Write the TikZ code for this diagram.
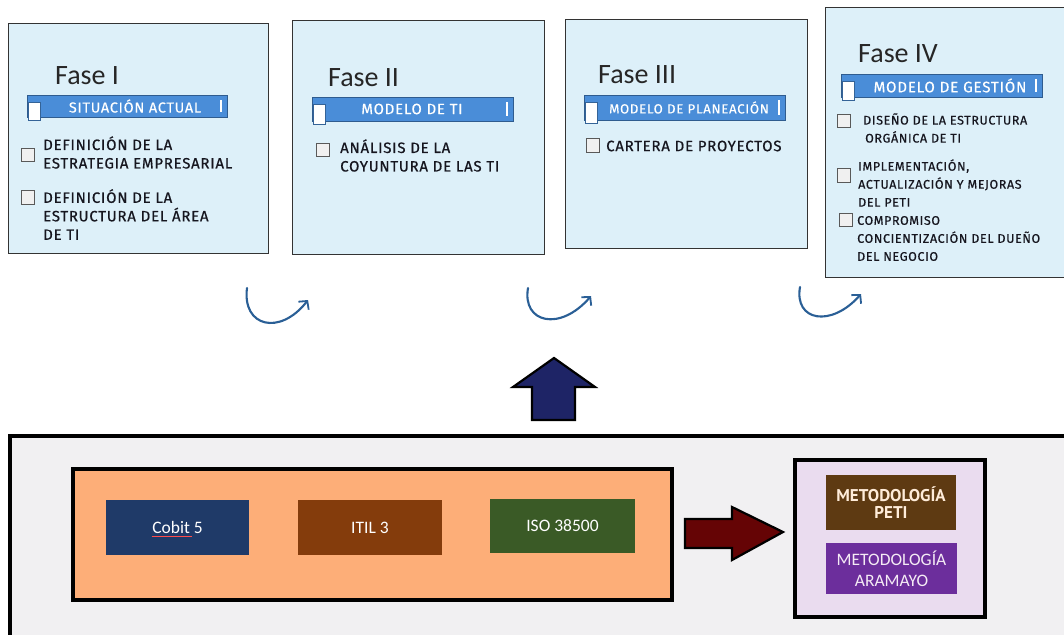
\documentclass[tikz,border=0pt]{standalone}
\usepackage{fontspec}
\setmainfont{Carlito}
\newfontfamily\din[LetterSpace=5, FakeBold=0.6]{Fira Sans}
\newfontfamily\barfont[LetterSpace=5, FakeBold=0.2]{Fira Sans}
\newfontfamily\dinplain{PT Sans}
\usetikzlibrary{arrows.meta}

\definecolor{phasefill}{HTML}{DDF0F9}
\definecolor{barblue}{HTML}{4A8DD8}
\definecolor{bardark}{HTML}{2F5C8F}
\definecolor{itemtext}{HTML}{16161F}
\definecolor{curlblue}{HTML}{2A5F96}
\definecolor{navyarrow}{HTML}{1E2466}
\definecolor{maroonarrow}{HTML}{650405}
\definecolor{panelgrey}{HTML}{F1F0F2}
\definecolor{peach}{HTML}{FDAE78}
\definecolor{cobitblue}{HTML}{1F3A68}
\definecolor{itilbrown}{HTML}{843C0C}
\definecolor{isogreen}{HTML}{3A5A26}
\definecolor{lavender}{HTML}{EADCEF}
\definecolor{petibrown}{HTML}{5E3A12}
\definecolor{aramayopurple}{HTML}{6C2E9C}

\tikzset{
  fasebox/.style={draw=black!80, line width=1pt, fill=phasefill, inner sep=0pt},
  fasetitle/.style={font=\fontsize{28}{30}\selectfont, text=black!85, inner sep=0pt, anchor=base west},
  barbox/.style={draw=bardark, line width=0.6pt, fill=barblue, inner sep=0pt},
  bartext/.style={text=white, inner sep=0pt},
  chk/.style={draw=black!65, fill=black!6, line width=0.9pt, minimum size=13.5pt, inner sep=0pt},
  itemI/.style={font=\din\fontsize{15}{18.5}\selectfont, text=itemtext, align=left, anchor=west, inner sep=0pt},
  itemIV/.style={font=\din\fontsize{12.5}{18}\selectfont, text=itemtext, align=left, anchor=west, inner sep=0pt},
  curl/.style={draw=curlblue, line width=2.1pt, line cap=round,
    -{Straight Barb[length=6pt,width=13pt,line width=1.8pt]}},
  fwbox/.style={inner sep=0pt, text=white, font=\fontsize{17.5}{18}\selectfont},
  thickframe/.style={draw=black, line width=4pt},
  blockarrow/.style={draw=black, line width=2.2pt, line join=miter}
}

% white marker square and cursor tick on a title bar
\newcommand\barmarks[4]{%
  \fill[white] (#1+1,#2+7) rectangle (#1+13,#4+3);
  \draw[barblue!70!black, line width=0.4pt] (#1+1,#2+7) rectangle (#1+13,#4+3);
  \draw[white, line width=1.2pt] (#3-6,#2+5) -- (#3-6,#4-5);
}

\begin{document}
\begin{tikzpicture}[x=1pt, y=-1pt]
\useasboundingbox (0,0) rectangle (1064,634);
\clip (0,0) rectangle (1064,634);
\fill[white] (0,0) rectangle (1064,634);

% ---------- phase cards ----------
\node[fasebox, minimum width=260pt, minimum height=229pt] (f1) at (138,138.5) {};
\node[fasebox, minimum width=252pt, minimum height=233pt] (f2) at (418,137.5) {};
\node[fasebox, minimum width=242pt, minimum height=228pt] (f3) at (686,134) {};
\node[fasebox, minimum width=250pt, minimum height=269pt] (f4) at (950,142.5) {};

\node[fasetitle] (t1) at (55,84) {Fase I};
\node[fasetitle] (t2) at (328,86) {Fase II};
\node[fasetitle] (t3) at (598,83) {Fase III};
\node[fasetitle] (t4) at (858,63) {Fase IV};

% title bars
\node[barbox, minimum width=200pt, minimum height=22pt] (b1) at (127,106) {};
\barmarks{27}{95}{227}{117}
\node[bartext, font=\barfont\fontsize{14.5}{15}\selectfont] (b1t) at (135,106) {SITUACIÓN ACTUAL};

\node[barbox, minimum width=201pt, minimum height=24pt] (b2) at (412.5,109) {};
\barmarks{312}{97}{513}{121}
\node[bartext, font=\barfont\fontsize{15}{15}\selectfont] (b2t) at (412,109) {MODELO DE TI};

\node[barbox, minimum width=201pt, minimum height=25pt] (b3) at (684.5,107.5) {};
\barmarks{584}{95}{785}{120}
\node[bartext, font=\barfont\fontsize{13.3}{15}\selectfont] (b3t) at (689,107.5) {MODELO DE PLANEACIÓN};

\node[barbox, minimum width=201pt, minimum height=23pt] (b4) at (941.5,85.5) {};
\barmarks{841}{74}{1042}{97}
\node[bartext, font=\barfont\fontsize{15.2}{15}\selectfont] (b4t) at (950,85.5) {MODELO DE GESTIÓN};

% phase I items
\node[chk] (c11) at (28,155) {};
\node[itemI] (i11) at (43,152.5) {DEFINICIÓN DE LA\\ESTRATEGIA EMPRESARIAL};
\node[chk] (c12) at (28,197.5) {};
\node[itemI] (i12) at (43,214.5) {DEFINICIÓN DE LA\\ESTRUCTURA DEL ÁREA\\DE TI};

% phase II items
\node[chk] (c21) at (323,150) {};
\node[itemI] (i21) at (340,155.5) {ANÁLISIS DE LA\\COYUNTURA DE LAS TI};

% phase III items
\node[chk] (c31) at (593,145.5) {};
\node[itemI] (i31) at (606,146) {CARTERA DE PROYECTOS};

% phase IV items
\node[chk] (c41) at (844,121) {};
\node[itemIV] (i41) at (863,128) {DISEÑO DE LA ESTRUCTURA\\\hspace*{2pt}ORGÁNICA DE TI};
\node[chk] (c42) at (844,175.5) {};
\node[itemIV] (i42) at (858,183) {IMPLEMENTACIÓN,\\ACTUALIZACIÓN Y MEJORAS\\DEL PETI};
\node[chk] (c43) at (846,220) {};
\node[itemIV] (i43) at (857,238.5) {COMPROMISO\\CONCIENTIZACIÓN DEL DUEÑO\\DEL NEGOCIO};

% ---------- curved step arrows ----------
\coordinate (k1s) at (247,288); \coordinate (k1e) at (308,300);
\coordinate (k2s) at (528,288); \coordinate (k2e) at (591,296);
\coordinate (k3s) at (800,287); \coordinate (k3e) at (861,294);
\draw[curl] (k1s) .. controls (242,327) and (280,336) .. (k1e);
\draw[curl] (k2s) .. controls (522,323) and (560,332) .. (k2e);
\draw[curl] (k3s) .. controls (794,321) and (831,328) .. (k3e);

% ---------- upward block arrow ----------
\coordinate (upTip) at (554,358);
\draw[blockarrow, fill=navyarrow]
  (upTip) -- (595,387) -- (575,387) -- (575,420) -- (532,420) -- (532,387) -- (513,387) -- cycle;

% ---------- framework panel ----------
\draw[line width=3.5pt, fill=panelgrey] (10,436) rectangle (1080,650);

\node[thickframe, fill=peach, minimum width=599pt, minimum height=131pt, inner sep=0pt] (fw) at (372.5,534.5) {};
\node[fwbox, fill=cobitblue, minimum width=143pt, minimum height=55pt] (cobit) at (177.5,527.5) {Cobit 5};
\draw[red!70, line width=0.6pt] ([xshift=-26pt,yshift=-9pt]cobit.center) -- ([xshift=14pt,yshift=-9pt]cobit.center);
\node[fwbox, fill=itilbrown, minimum width=144pt, minimum height=55pt] (itil) at (370,527.5) {ITIL 3};
\node[fwbox, fill=isogreen, minimum width=145pt, minimum height=54pt] (iso) at (562.5,526) {ISO 38500};

% ---------- rightward block arrow ----------
\coordinate (rTip) at (783,532);
\draw[blockarrow, fill=maroonarrow]
  (685,519) -- (732,519) -- (732,507) -- (rTip) -- (732,560) -- (732,548) -- (685,548) -- cycle;

% ---------- methodology box ----------
\node[thickframe, fill=lavender, minimum width=190pt, minimum height=157pt, inner sep=0pt] (meth) at (890,538.5) {};
\node[fill=petibrown, minimum width=130pt, minimum height=55pt, inner sep=0pt, align=center,
      text=orange!15, font=\dinplain\bfseries\fontsize{17}{17}\selectfont] (peti) at (891,502.5) {METODOLOGÍA\\PETI};
\node[fill=aramayopurple, minimum width=131pt, minimum height=51pt, inner sep=0pt, align=center,
      text=violet!8, font=\fontsize{17.5}{21}\selectfont] (aram) at (891.5,568.5) {METODOLOGÍA\\ARAMAYO};
\end{tikzpicture}
\end{document}
